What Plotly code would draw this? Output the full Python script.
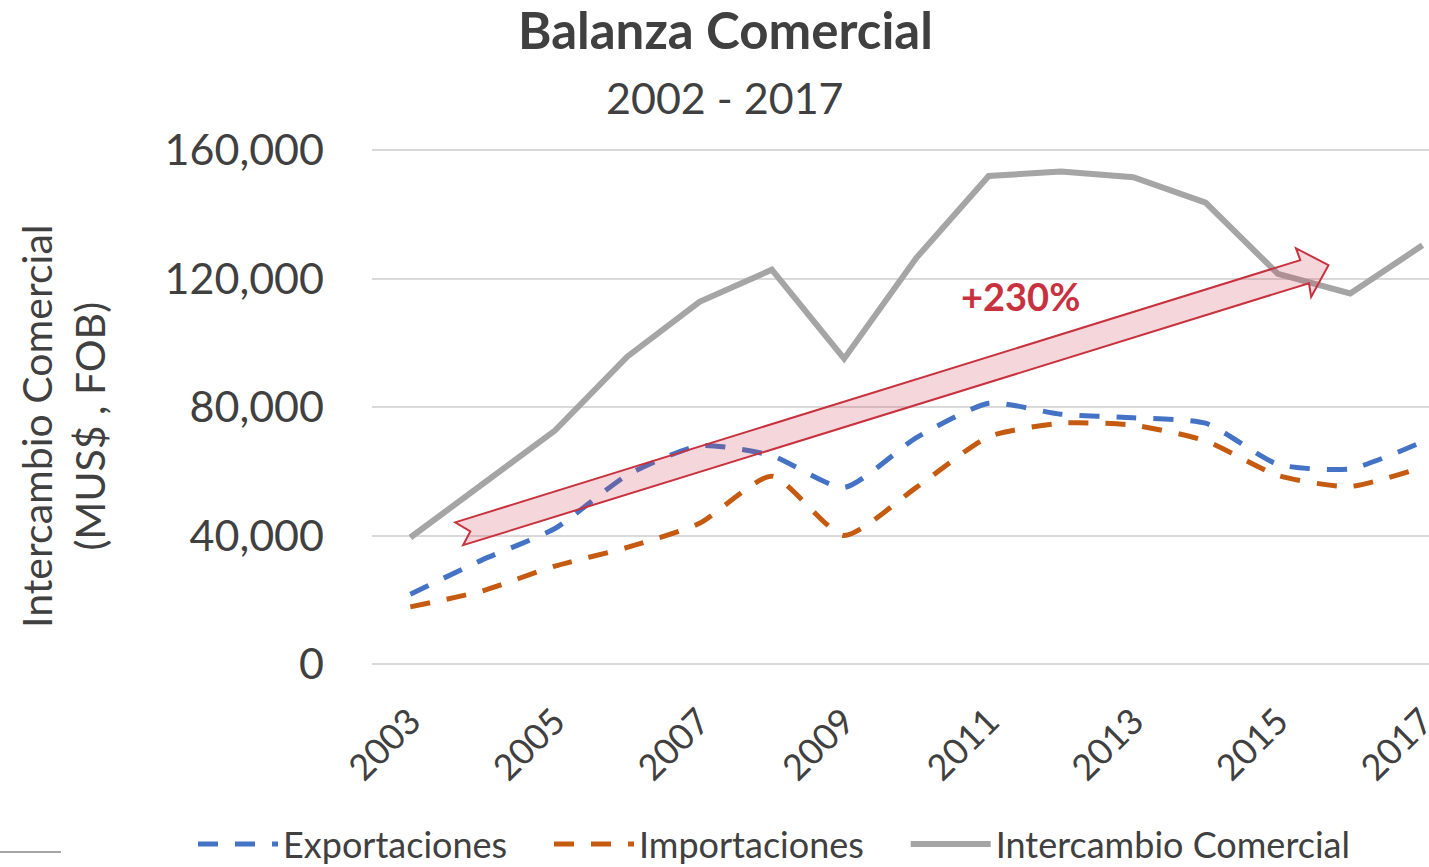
import plotly.graph_objects as go

years = list(range(2003, 2018))
exportaciones = [21.7, 32.5, 42.2, 58.8, 68.0, 64.9, 55.0, 70.5, 81.2, 77.8, 76.7, 75.0, 62.2, 60.8, 69.2]
importaciones = [17.8, 22.8, 30.5, 36.3, 43.8, 58.5, 40.0, 55.0, 70.8, 75.0, 74.4, 69.5, 58.7, 55.3, 61.3]
intercambio = [39.4, 55.8, 72.7, 95.7, 112.8, 122.8, 95.1, 126.5, 152.0, 153.4, 151.6, 143.7, 121.5, 115.4, 130.4]
exportaciones = [v * 1000 for v in exportaciones]
importaciones = [v * 1000 for v in importaciones]
intercambio = [v * 1000 for v in intercambio]

series_names = ["Exportaciones", "Importaciones", "Intercambio Comercial"]
tick_years = [2003, 2005, 2007, 2009, 2011, 2013, 2015, 2017]
y_ticks = [0, 40000, 80000, 120000, 160000]
y_tick_labels = ["0", "40,000", "80,000", "120,000", "160,000"]

# trend arrow outline (year, value)
arrow_x = [2003.62, 2015.31, 2015.25, 2015.70, 2015.46, 2015.43, 2003.73, 2003.83]
arrow_y = [44100, 125800, 129500, 124200, 114300, 118600, 37000, 41300]

FONT = "Lato"
TXT = "#404040"
L, T, PW, PH = 372, 149, 1057, 515
PAD = "\u00a0" * 4


def px_x(p):
    return (p - L) / PW


def px_y(p):
    return (T + PH - p) / PH


fig = go.Figure()
fig.add_trace(go.Scatter(x=years, y=exportaciones, name=series_names[0] + PAD, mode="lines",
                         line=dict(color="#4472C4", width=5, dash="20px,17px", shape="spline", smoothing=0.6)))
fig.add_trace(go.Scatter(x=years, y=importaciones, name=series_names[1] + PAD, mode="lines",
                         line=dict(color="#C55A11", width=5, dash="20px,17px", shape="spline", smoothing=0.6)))
fig.add_trace(go.Scatter(x=years, y=intercambio, name=series_names[2], mode="lines",
                         line=dict(color="#A5A5A5", width=6)))

path = "M " + " L ".join(f"{x},{y}" for x, y in zip(arrow_x, arrow_y)) + " Z"
fig.add_shape(type="path", path=path, xref="x", yref="y",
              fillcolor="rgba(210,70,90,0.22)", line=dict(color="#C8323F", width=2), layer="above")

fig.add_shape(type="line", xref="paper", yref="paper",
              x0=px_x(0), x1=px_x(61), y0=px_y(852), y1=px_y(852),
              line=dict(color="#A5A5A5", width=2))

fig.add_annotation(text="<b>+230%</b>", x=2011.44, y=114600, xref="x", yref="y", showarrow=False,
                   font=dict(family=FONT, size=38, color="#C8323F"))
fig.add_annotation(text="<b>Balanza Comercial</b>", x=px_x(725), y=px_y(30),
                   xref="paper", yref="paper", showarrow=False, xanchor="center", yanchor="middle",
                   font=dict(family=FONT, size=51, color=TXT))
fig.add_annotation(text="2002 - 2017", x=px_x(725), y=px_y(97),
                   xref="paper", yref="paper", showarrow=False, xanchor="center", yanchor="middle",
                   font=dict(family=FONT, size=43, color=TXT))
fig.add_annotation(text="Intercambio Comercial<br>(MUS$ , FOB)", x=px_x(63), y=px_y(427),
                   xref="paper", yref="paper", showarrow=False, xanchor="center", yanchor="middle",
                   textangle=-90, font=dict(family=FONT, size=41, color=TXT))

fig.update_layout(
    width=1429, height=867,
    margin=dict(l=L, r=1429 - L - PW, t=T, b=867 - T - PH, autoexpand=False),
    paper_bgcolor="white", plot_bgcolor="white",
    showlegend=True,
    legend=dict(orientation="h", x=px_x(193), y=px_y(874), xanchor="left", yanchor="bottom",
                font=dict(family=FONT, size=36, color=TXT), itemwidth=80, tracegroupgap=0),
)
fig.update_xaxes(range=[2002.47, 2017.09], tickvals=tick_years, ticktext=[str(t) for t in tick_years],
                 tickangle=-45, showgrid=False, zeroline=False, showline=False, automargin=False,
                 ticklabeloverflow="allow",
                 tickfont=dict(family=FONT, size=36, color=TXT), ticklabelstandoff=28)
fig.update_yaxes(range=[0, 160400], tickvals=y_ticks, ticktext=y_tick_labels, automargin=False,
                 showgrid=True, gridcolor="#D9D9D9", gridwidth=2, zeroline=True, zerolinecolor="#D9D9D9",
                 zerolinewidth=2, showline=False,
                 tickfont=dict(family=FONT, size=43, color=TXT), ticklabelstandoff=47)

fig.write_html("out.html", config={"displayModeBar": False},
               post_script="document.body.style.margin='0';document.body.style.overflow='hidden';")
